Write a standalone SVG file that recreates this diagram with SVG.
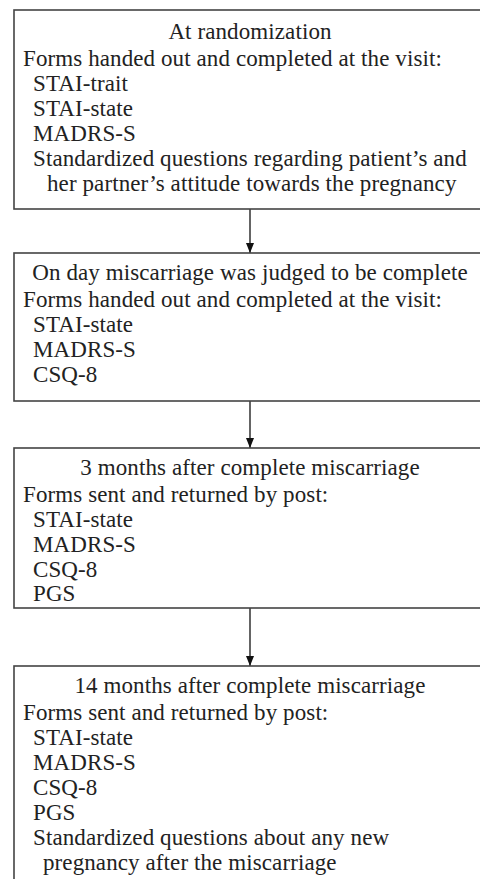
<svg xmlns="http://www.w3.org/2000/svg" width="480" height="879" viewBox="0 0 480 879">
<style>
.box{fill:#fff;stroke:#444;stroke-width:1.6}
text{font-family:"Liberation Serif","Times New Roman",serif;font-size:23px;letter-spacing:0.1px;fill:#222}
.t{text-anchor:middle}
.c{stroke:#111;stroke-width:1.3;fill:none}
</style>
<defs>
<marker id="ah" markerWidth="10" markerHeight="8" refX="10" refY="4" orient="auto" markerUnits="userSpaceOnUse" viewBox="0 0 10 8">
<path d="M0,0 L10,4 L0,8 Z" fill="#111"/>
</marker>
</defs>
<rect width="480" height="879" fill="#fff"/>
<g id="connectors">
<line class="c" x1="250" y1="209" x2="250" y2="253" marker-end="url(#ah)"/>
<line class="c" x1="250" y1="401" x2="250" y2="448" marker-end="url(#ah)"/>
<line class="c" x1="250" y1="608" x2="250" y2="666" marker-end="url(#ah)"/>
</g>
<g id="node1">
<rect class="box" x="14" y="10" width="480" height="199"/>
<text class="t" x="250" y="39">At randomization</text>
<text x="23" y="66">Forms handed out and completed at the visit:</text>
<text x="33" y="91">STAI-trait</text>
<text x="33" y="116">STAI-state</text>
<text x="33" y="141">MADRS-S</text>
<text x="33" y="166">Standardized questions regarding patient’s and</text>
<text x="47" y="191">her partner’s attitude towards the pregnancy</text>
</g>
<g id="node2">
<rect class="box" x="14" y="253" width="480" height="148"/>
<text class="t" x="250" y="280">On day miscarriage was judged to be complete</text>
<text x="23" y="307">Forms handed out and completed at the visit:</text>
<text x="33" y="332">STAI-state</text>
<text x="33" y="357">MADRS-S</text>
<text x="33" y="382">CSQ-8</text>
</g>
<g id="node3">
<rect class="box" x="14" y="448" width="480" height="160"/>
<text class="t" x="250" y="475">3 months after complete miscarriage</text>
<text x="23" y="502">Forms sent and returned by post:</text>
<text x="33" y="527">STAI-state</text>
<text x="33" y="552">MADRS-S</text>
<text x="33" y="577">CSQ-8</text>
<text x="33" y="601">PGS</text>
</g>
<g id="node4">
<rect class="box" x="14" y="666" width="480" height="240"/>
<text class="t" x="250" y="693">14 months after complete miscarriage</text>
<text x="23" y="720">Forms sent and returned by post:</text>
<text x="33" y="745">STAI-state</text>
<text x="33" y="770">MADRS-S</text>
<text x="33" y="795">CSQ-8</text>
<text x="33" y="820">PGS</text>
<text x="33" y="845">Standardized questions about any new</text>
<text x="43" y="870">pregnancy after the miscarriage</text>
</g>
</svg>
